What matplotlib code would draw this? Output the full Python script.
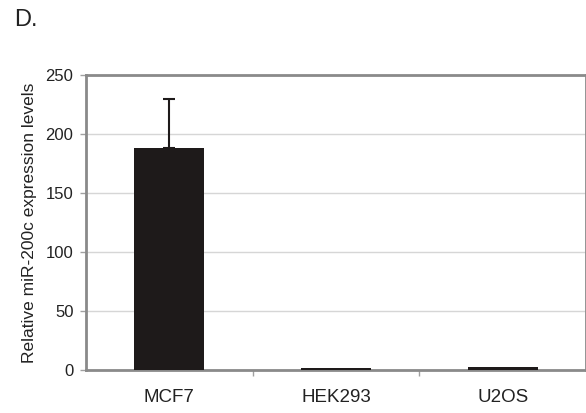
import matplotlib
matplotlib.use("Agg")
import matplotlib.pyplot as plt
import numpy as np

plt.rcParams['font.family'] = ['Liberation Sans', 'DejaVu Sans']

categories = ["MCF7", "HEK293", "U2OS"]
values = [188, 1.5, 2.5]
errors = [42, 0, 0]
yticks = [0, 50, 100, 150, 200, 250]

fig = plt.figure(figsize=(5.86, 4.13), dpi=100)
ax = fig.add_axes([86/586, 1 - 370/413, 500/586, 295/413])

x = np.arange(len(categories))
ax.bar(x, values, width=0.42, color="#1e1a1a", zorder=3)
for xi, v, e in zip(x, values, errors):
    if e > 0:
        ax.errorbar(xi, v, yerr=[[0], [e]], fmt="none", ecolor="#1e1a1a",
                    elinewidth=1.5, capsize=4, capthick=1.5, zorder=4)

ax.set_xlim(-0.5, len(categories) - 0.5)
ax.set_ylim(0, 250)
ax.set_yticks(yticks)
ax.set_yticklabels([str(t) for t in yticks], fontsize=12, color="#222222")
ax.yaxis.grid(True, color="#d6d6d6", linewidth=1.0, zorder=0)
ax.set_axisbelow(True)

# Category labels centred under bars, ticks at category boundaries
ax.set_xticks(x)
ax.set_xticklabels(categories, fontsize=13.5, color="#222222")
ax.tick_params(axis="x", length=0, pad=14)
ax.set_xticks(np.arange(0.5, len(categories) - 0.5), minor=True)
ax.tick_params(axis="x", which="minor", length=4, color="#a0a0a0", width=1)
ax.tick_params(axis="y", length=4, color="#a0a0a0", width=1, pad=5)

for side in ["left", "top", "right", "bottom"]:
    ax.spines[side].set_color("#8a8a8a")
    ax.spines[side].set_linewidth(2)

ax.set_ylabel("Relative miR-200c expression levels", fontsize=12.5, color="#222222",
              labelpad=6)

fig.text(14/586, 1 - 20/413, "D.", fontsize=17, color="#222222", va="center", ha="left")

fig.savefig("out.png", dpi=100)
